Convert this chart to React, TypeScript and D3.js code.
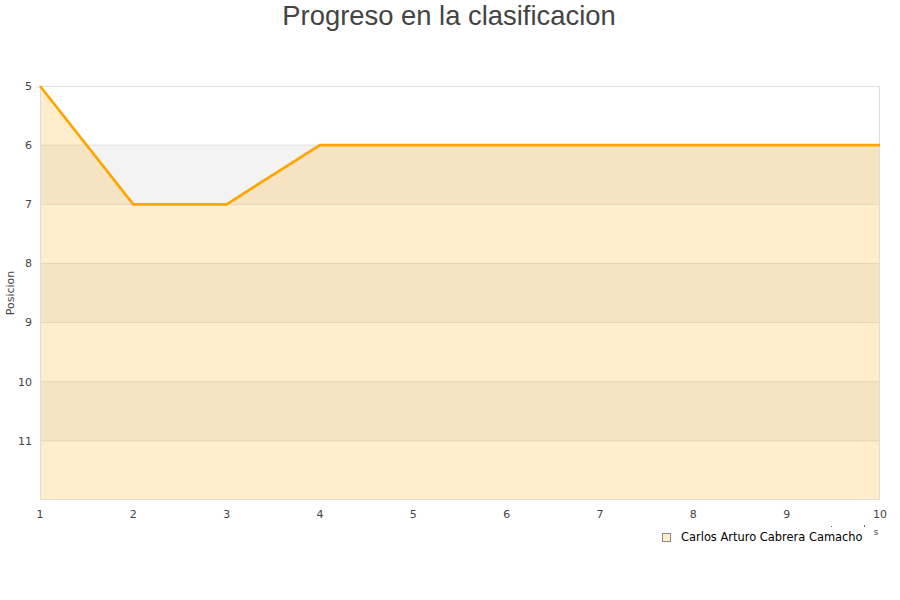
import React from "react";
import * as d3 from "d3";

const jornadas = [1, 2, 3, 4, 5, 6, 7, 8, 9, 10];
const posiciones = [5, 7, 7, 6, 6, 6, 6, 6, 6, 6];
const yTicks = [5, 6, 7, 8, 9, 10, 11];
const bandStarts = [6, 8, 10];
const seriesName = "Carlos Arturo Cabrera Camacho";
const title = "Progreso en la clasificacion";
const yTitle = "Posicion";

const W = 900;
const H = 600;
const left = 40, right = 880, top = 86, bottom = 500;

export default function App() {
  const x = d3.scaleLinear().domain([1, 10]).range([left, right]);
  const y = d3.scaleLinear().domain([5, 12]).range([top, bottom]);
  const pts = jornadas.map((j, i) => [j, posiciones[i]] as [number, number]);
  const area = d3
    .area<[number, number]>()
    .x((d) => x(d[0]))
    .y0(y(12))
    .y1((d) => y(d[1]))(pts) as string;
  const line = d3
    .line<[number, number]>()
    .x((d) => x(d[0]))
    .y((d) => y(d[1]))(pts) as string;
  const font = "DejaVu Sans, sans-serif";
  return (
    <svg
      width={W}
      height={H}
      style={{ position: "absolute", left: 0, top: 0, background: "#fff" }}
    >
      <rect x={0} y={0} width={W} height={H} fill="#fff" />
      <text
        x={449}
        y={25}
        textAnchor="middle"
        fontFamily="Liberation Sans, Arial, sans-serif"
        fontSize={27.4}
        fill="#444"
      >
        {title}
      </text>
      {bandStarts.map((b) => (
        <rect
          key={b}
          x={left}
          y={y(b)}
          width={right - left}
          height={y(b + 1) - y(b)}
          fill="#f3f3f3"
        />
      ))}
      {yTicks.slice(1).map((t) => (
        <line
          key={t}
          x1={left}
          x2={right}
          y1={y(t)}
          y2={y(t)}
          stroke="#e0e0e0"
          strokeWidth={1}
        />
      ))}
      <path d={area} fill="rgba(255,165,0,0.2)" />
      <rect
        x={left + 0.5}
        y={top + 0.5}
        width={right - left - 1}
        height={bottom - top - 1}
        fill="none"
        stroke="#dddddd"
      />
      <path d={line} fill="none" stroke="#ffa500" strokeWidth={2.7} strokeLinejoin="miter" />
      {yTicks.map((t) => (
        <text
          key={t}
          x={32}
          y={y(t)}
          dy="0.35em"
          textAnchor="end"
          fontFamily={font}
          fontSize={11}
          fill="#444"
        >
          {t}
        </text>
      ))}
      {jornadas.map((j) => (
        <text
          key={j}
          x={x(j)}
          y={518}
          textAnchor="middle"
          fontFamily={font}
          fontSize={11}
          fill="#444"
        >
          {j}
        </text>
      ))}
      <text
        transform={`translate(14,293) rotate(-90)`}
        textAnchor="middle"
        fontFamily={font}
        fontSize={11}
        fill="#444"
      >
        {yTitle}
      </text>
      <text x={876} y={535} textAnchor="middle" fontFamily={font} fontSize={9} fill="#444">
        s
      </text>
      <rect x={831} y={526} width={1} height={1} fill="#666" />
      <rect x={864} y={525} width={1} height={2} fill="#666" />
      <rect x={662.5} y={533.5} width={8} height={8} fill="#ffedcc" stroke="#888" strokeWidth={1} />
      <text x={681} y={541} fontFamily={font} fontSize={11.45} fill="#000">
        {seriesName}
      </text>
    </svg>
  );
}
